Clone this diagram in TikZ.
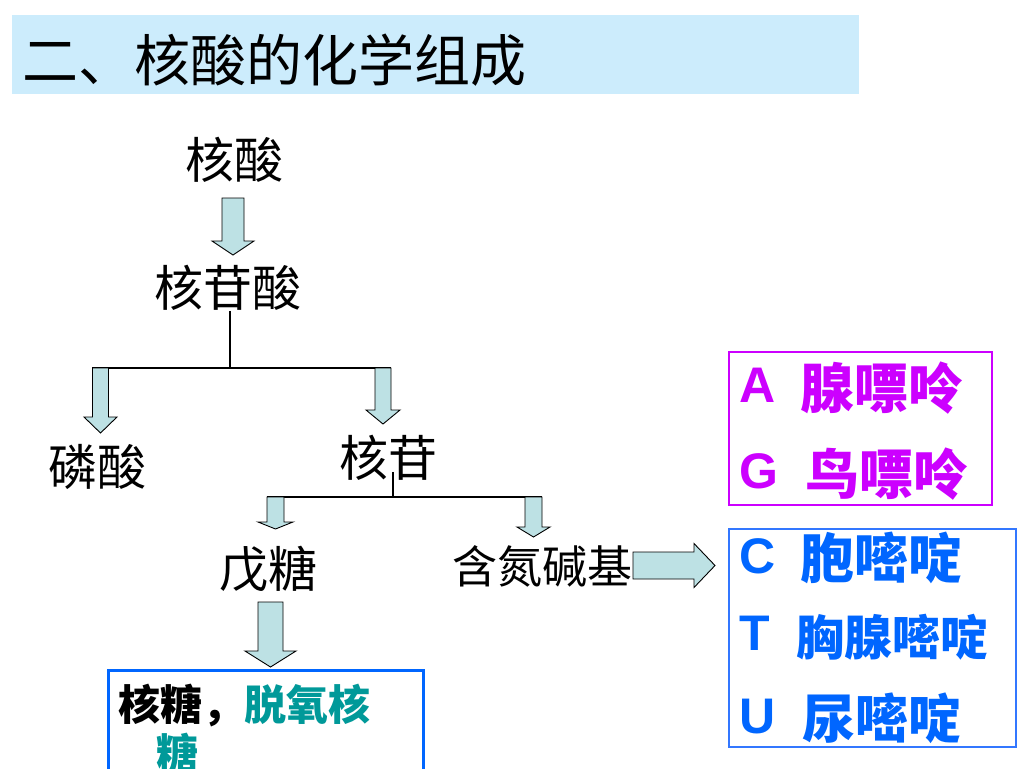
\documentclass[tikz,border=0pt]{standalone}
\usepackage{fontspec}
\setmainfont{Noto Sans CJK SC}
\newfontfamily\arialfont{Liberation Sans}
\usetikzlibrary{calc,positioning}

\definecolor{bandblue}{RGB}{204,236,252}
\definecolor{arrowfill}{RGB}{189,225,228}
\definecolor{purine}{RGB}{204,0,255}
\definecolor{pyrimidine}{RGB}{0,102,255}
\definecolor{boxblue}{RGB}{51,119,255}
\definecolor{deoxy}{RGB}{0,153,153}

% flecha gruesa: inicio, punta, medio ancho, medio ancho de la cabeza, largo de la cabeza
\newcommand{\fatarrow}[5]{%
  \coordinate (fah) at ($#2!#5!#1$);
  \draw[fat arrow] ($#1!#3!90:#2$) -- ($(fah)!#3!90:#2$) -- ($(fah)!#4!90:#2$) -- #2
    -- ($(fah)!#4!-90:#2$) -- ($(fah)!#3!-90:#2$) -- ($#1!#3!-90:#2$) -- cycle;
}

\begin{document}
\begin{tikzpicture}[x=1pt,y=-1pt,
  label node/.style={font=\fontsize{49}{58}\selectfont, inner sep=0pt},
  fat arrow/.style={draw=black, fill=arrowfill, line width=0.9pt, line join=miter},
  tree line/.style={draw=black, line width=1.1pt},
  letter/.style={font=\arialfont\bfseries\fontsize{50}{60}\selectfont, anchor=base west, inner sep=0pt},
  base name/.style={font=\bfseries\fontsize{54}{60}\selectfont, anchor=base west, inner sep=0pt}]

  \clip (0,0) rectangle (1024,768);
  \fill[white] (0,0) rectangle (1024,768);

  % Titulo
  \fill[bandblue] (12,15) rectangle (859,94);
  \node[anchor=west, inner sep=0pt, font=\fontsize{56}{60}\selectfont] (title) at (22,60) {二、核酸的化学组成};

  % Definicion de los nodos
  \node[label node] (nucleic) at (234,160) {核酸};
  \node[label node] (nucleotide) at (228,288) {核苷酸};
  \node[label node] (phosphate) at (97,467) {磷酸};
  \node[label node] (nucleoside) at (388,458) {核苷};
  \node[label node] (pentose) at (268,569) {戊糖};
  \node[label node, font=\fontsize{45}{54}\selectfont] (nbase) at (542,566) {含氮碱基};

  % Ramas
  \coordinate (split1) at (230,368);
  \coordinate (split1l) at (92,368);
  \coordinate (split1r) at (391,368);
  \coordinate (split2) at (393,497);
  \coordinate (split2l) at (267,497);
  \coordinate (split2r) at (542,497);
  \draw[tree line] (nucleotide.south -| split1) -- (split1);
  \draw[tree line] (split1l) -- (split1r);
  \draw[tree line] ([yshift=9pt]nucleoside.south -| split2) -- (split2);
  \draw[tree line] (split2l) -- (split2r);

  % Flechas
  \coordinate (a1s) at (233,198);   \coordinate (a1t) at (233,255);
  \coordinate (a2s) at (100.5,368); \coordinate (a2t) at (100.5,433);
  \coordinate (a3s) at (383,368);   \coordinate (a3t) at (383,424);
  \coordinate (a4s) at (275.5,497); \coordinate (a4t) at (275.5,529);
  \coordinate (a5s) at (533.5,497); \coordinate (a5t) at (533.5,537);
  \coordinate (a6s) at (270.5,602); \coordinate (a6t) at (270.5,667);
  \coordinate (a7s) at (633,565.5); \coordinate (a7t) at (715,565.5);
  \fatarrow{(a1s)}{(a1t)}{11pt}{21pt}{14pt}
  \fatarrow{(a2s)}{(a2t)}{8pt}{16.5pt}{16pt}
  \fatarrow{(a3s)}{(a3t)}{8pt}{17pt}{14pt}
  \fatarrow{(a4s)}{(a4t)}{8.5pt}{17.5pt}{7pt}
  \fatarrow{(a5s)}{(a5t)}{8.5pt}{16.5pt}{10pt}
  \fatarrow{(a6s)}{(a6t)}{12.5pt}{25.5pt}{16pt}
  \fatarrow{(a7s)}{(a7t)}{13.5pt}{22pt}{21pt}

  % Cajas de bases
  \draw[purine, line width=1.5pt] (729,352) rectangle (992,505);
  \draw[boxblue, line width=1.5pt] (729,529) rectangle (1016,747);
  \node[letter, text=purine] (la) at (739,402) {A};
  \node[base name, text=purine] (na) at (800,408) {腺嘌呤};
  \node[letter, text=purine] (lg) at (739,488) {G};
  \node[base name, text=purine] (ng) at (805,494) {鸟嘌呤};
  \node[letter, text=pyrimidine] (lc) at (739,573) {C};
  \node[base name, text=pyrimidine] (nc) at (800,578) {胞嘧啶};
  \node[letter, text=pyrimidine] (lt) at (739,650) {T};
  \node[base name, text=pyrimidine, font=\bfseries\fontsize{48}{56}\selectfont] (nt) at (796,655) {胸腺嘧啶};
  \node[letter, text=pyrimidine] (lu) at (739,733) {U};
  \node[base name, text=pyrimidine, font=\bfseries\fontsize{53}{60}\selectfont] (nu) at (802,738) {尿嘧啶};

  % Caja de azucares
  \draw[pyrimidine, line width=3pt] (108,670) rectangle (423,800);
  \node[anchor=base west, inner sep=0pt, font=\bfseries\fontsize{42}{49}\selectfont] (sugar1) at (118,720) {核糖，\textcolor{deoxy}{脱氧核}};
  \node[anchor=base west, inner sep=0pt, font=\bfseries\fontsize{42}{49}\selectfont, text=deoxy] (sugar2) at (156,769) {糖};
\end{tikzpicture}
\end{document}
